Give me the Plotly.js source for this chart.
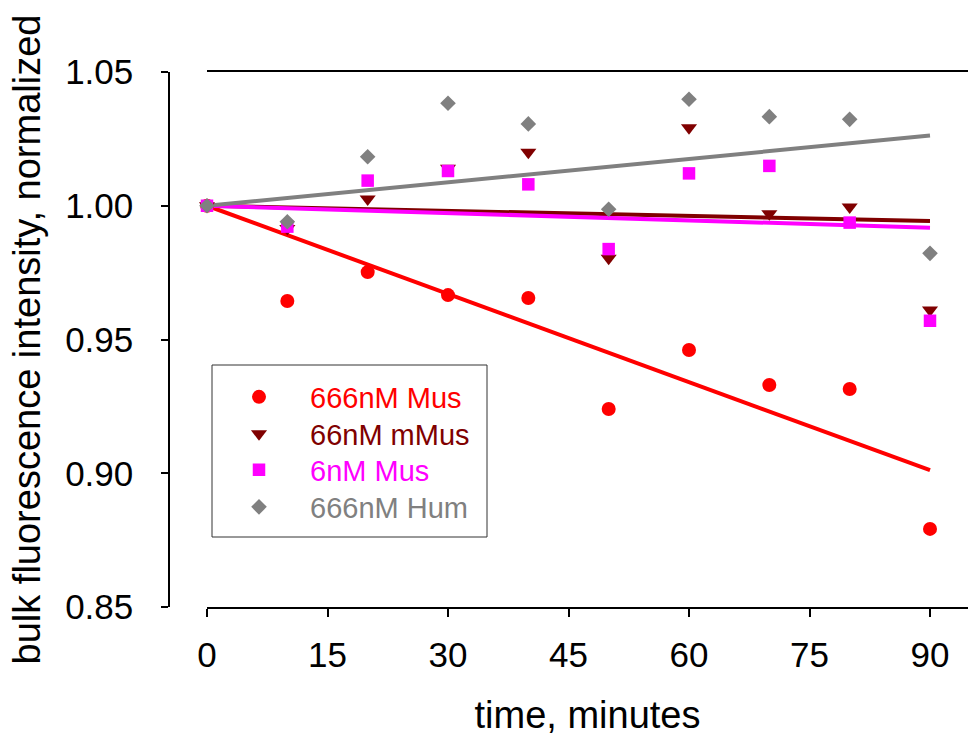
<!DOCTYPE html>
<html>
<head>
<meta charset="utf-8">
<script src="https://cdn.plot.ly/plotly-3.0.1.min.js"></script>
<style>
  html, body { margin: 0; padding: 0; background: #ffffff; }
  #chart { width: 968px; height: 736px; }
</style>
</head>
<body>
<div id="chart"></div>
<script>
// Sampling times (minutes) and normalized bulk fluorescence for each condition
const timeMin = [0, 10, 20, 30, 40, 50, 60, 70, 80, 90];
const mus666  = [1.000, 0.9644, 0.9752, 0.9666, 0.9655, 0.9240, 0.9461, 0.9330, 0.9315, 0.8792];
const mmus66  = [1.000, 0.9915, 1.0025, 1.0140, 1.0200, 0.9804, 1.0292, 0.9970, 0.9995, 0.9610];
const mus6    = [1.000, 0.9922, 1.0094, 1.0130, 1.0080, 0.9838, 1.0121, 1.0149, 0.9937, 0.9570];
const hum666  = [1.000, 0.9940, 1.0183, 1.0383, 1.0306, 0.9987, 1.0398, 1.0333, 1.0323, 0.9822];

const seriesNames = ['666nM Mus', '66nM mMus', '6nM Mus', '666nM Hum'];
const xTicks = [0, 15, 30, 45, 60, 75, 90];
const yTicks = [0.85, 0.90, 0.95, 1.00, 1.05];

const FONT = 'Arial, "Liberation Sans", sans-serif';
const W = 968, PLOT_TOP = 72, PLOT_H = 535;
const py = p => 1 - (p - PLOT_TOP) / PLOT_H;   // pixel row -> paper y

const series = [
  { y: mus666, name: seriesNames[0], color: '#ff0000', symbol: 'circle',        size: 14 },
  { y: mmus66, name: seriesNames[1], color: '#800000', symbol: 'triangle-down', size: 14 },
  { y: mus6,   name: seriesNames[2], color: '#ff00ff', symbol: 'square',        size: 12.5 },
  { y: hum666, name: seriesNames[3], color: '#808080', symbol: 'diamond',       size: 12 }
];
// one legend per entry so the rows sit at a fixed spacing
const legendRows = [397, 434, 470, 507];
const legendIds = ['legend', 'legend2', 'legend3', 'legend4'];

// Least-squares line constrained through (0, 1): y = 1 + b*t
function fitThroughStart(t, y) {
  let num = 0, den = 0;
  for (let i = 0; i < t.length; i++) {
    num += t[i] * (y[i] - 1);
    den += t[i] * t[i];
  }
  const b = num / den;
  const t0 = Math.min(...t), t1 = Math.max(...t);
  return { x: [t0, t1], y: [1 + b * t0, 1 + b * t1] };
}

const traces = [];
// regression lines underneath the markers
series.forEach(s => {
  const f = fitThroughStart(timeMin, s.y);
  traces.push({
    type: 'scatter', mode: 'lines', x: f.x, y: f.y,
    line: { color: s.color, width: 4 },
    showlegend: false, hoverinfo: 'skip', cliponaxis: false
  });
});
series.forEach((s, i) => {
  traces.push({
    type: 'scatter', mode: 'markers', x: timeMin, y: s.y,
    name: '<span style="color:' + s.color + '">' + s.name + '</span>',
    legend: legendIds[i],
    marker: { color: s.color, symbol: s.symbol, size: s.size, line: { width: 0 } },
    cliponaxis: false
  });
});

const layout = {
  width: 968, height: 736,
  margin: { l: 0, r: 0, t: PLOT_TOP, b: 736 - PLOT_TOP - PLOT_H, pad: 0 },
  paper_bgcolor: '#ffffff', plot_bgcolor: '#ffffff',
  font: { family: FONT, color: '#000000' },
  showlegend: true,
  xaxis: {
    domain: [207 / W, 1], range: [0, 94.73],
    tickvals: xTicks, ticktext: xTicks.map(String),
    ticks: 'outside', ticklen: 8, tickwidth: 1.5, tickcolor: '#000',
    ticklabelstandoff: 8,
    showline: true, linecolor: '#000', linewidth: 1.5, mirror: true,
    showgrid: false, zeroline: false,
    tickfont: { family: FONT, size: 35, color: '#000' },
    title: { text: 'time, minutes', font: { family: FONT, size: 38, color: '#000' }, standoff: 30 }
  },
  yaxis: {
    domain: [0, 1], range: [0.85, 1.05],
    anchor: 'free', position: 169 / W,
    tickvals: yTicks, ticktext: yTicks.map(v => v.toFixed(2)),
    ticks: 'outside', ticklen: 7, tickwidth: 1.5, tickcolor: '#000',
    ticklabelstandoff: 21,
    showline: true, linecolor: '#000', linewidth: 1.5,
    showgrid: false, zeroline: false,
    tickfont: { family: FONT, size: 35, color: '#000' },
    title: { text: 'bulk fluorescence intensity, normalized', font: { family: FONT, size: 38, color: '#000' }, standoff: 12 }
  },
  shapes: [{
    type: 'rect', xref: 'paper', yref: 'paper',
    x0: 212 / W, x1: 487 / W, y0: py(537), y1: py(365),
    line: { color: '#333333', width: 1 }, fillcolor: 'rgba(0,0,0,0)', layer: 'below'
  }]
};
legendIds.forEach((id, i) => {
  layout[id] = {
    x: 208 / W, y: py(legendRows[i]), xanchor: 'left', yanchor: 'middle',
    bgcolor: 'rgba(255,255,255,0)', borderwidth: 0,
    font: { family: FONT, size: 29 }, itemwidth: 92
  };
});

Plotly.newPlot('chart', traces, layout, { displayModeBar: false, responsive: false });
</script>
</body>
</html>
